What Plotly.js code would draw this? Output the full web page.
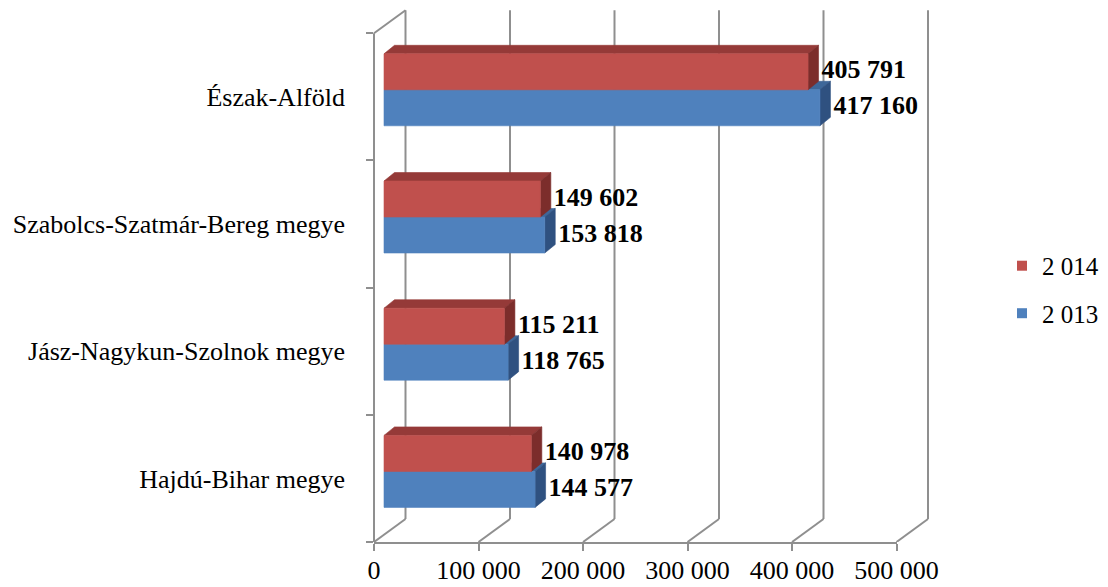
<!DOCTYPE html>
<html>
<head>
<meta charset="utf-8">
<script src="https://cdn.plot.ly/plotly-3.0.1.min.js"></script>
<style>
  html, body { margin: 0; padding: 0; background: #ffffff; }
  #chart { width: 1108px; height: 587px; }
</style>
</head>
<body>
<div id="chart"></div>
<script>
// Regions, listed from the bottom of the chart upwards
const categories = ['Hajdú-Bihar megye', 'Jász-Nagykun-Szolnok megye', 'Szabolcs-Szatmár-Bereg megye', 'Észak-Alföld'];
const values2014 = [140978, 115211, 149602, 405791];
const values2013 = [144577, 118765, 153818, 417160];
const seriesNames = ['2 014', '2 013'];
const xTickValues = [0, 100000, 200000, 300000, 400000, 500000];

// ---- drawing geometry (pixels) ----
const FIG_W = 1108, FIG_H = 587;
const SCENE_LEFT = 350, SCENE_RIGHT = 945;   // area that holds the 3D box
const FRONT_LEFT = 374;                      // x pixel of value 0 on the front plane
const PLOT_TOP = 8, PLOT_BOTTOM = 542;
const PX_PER_UNIT_X = 104.5 / 100000;
const PX_PER_BAND = 127.2;
const BOX_DEPTH = { x: 31.5, y: 23 };        // offset from front plane to back wall
const BAR_OFFSET = { x: 10, y: 7 };          // front face of the bars inside the box
const BAR_DEPTH = { x: 10.5, y: 8.5 };       // thickness of each bar in depth
const BAR_HEIGHT_PX = 36;
const LABEL_GAP_PX = 3;
const LEGEND_LEFT = 1002;

const FONT = '"Liberation Serif", "Times New Roman", serif';
const GRID = '#8f8f8f';
const COLORS = {
  '2 014': { front: '#C0504D', top: '#953A38', side: '#7C2D2B' },
  '2 013': { front: '#4F81BD', top: '#3E6799', side: '#2F5180' }
};

const sceneW = SCENE_RIGHT - SCENE_LEFT;
const plotH = PLOT_BOTTOM - PLOT_TOP;
const nBands = categories.length;

const ux = px => px / PX_PER_UNIT_X;          // pixels -> value units
const uy = px => px / PX_PER_BAND;            // pixels -> band units

const DX = ux(BOX_DEPTH.x), DY = uy(BOX_DEPTH.y);
const bx = ux(BAR_OFFSET.x), by = uy(BAR_OFFSET.y);
const bdx = ux(BAR_DEPTH.x), bdy = uy(BAR_DEPTH.y);
const bh = uy(BAR_HEIGHT_PX);

function fmt(v) {
  return String(v).replace(/\B(?=(\d{3})+(?!\d))/g, ' ');
}

const traces = [];

// ---- box: back wall gridlines, floor diagonals, left wall ----
const wx = [], wy = [];
function seg(x0, y0, x1, y1) { wx.push(x0, x1, null); wy.push(y0, y1, null); }
xTickValues.forEach(v => {
  seg(v + DX, DY, v + DX, nBands + DY);
  seg(v, 0, v + DX, DY);
});
seg(0, 0, 0, nBands);
seg(0, nBands, DX, nBands + DY);
traces.push({
  type: 'scatter', mode: 'lines', x: wx, y: wy, xaxis: 'x2', yaxis: 'y',
  line: { color: GRID, width: 2 }, hoverinfo: 'skip', showlegend: false
});

// ---- 3D bars ----
function barFaces(values, above) {
  const faces = { front: { x: [], y: [] }, top: { x: [], y: [] }, side: { x: [], y: [] } };
  values.forEach((v, i) => {
    const c = i + 0.5 + by;
    const y0 = above ? c : c - bh;
    const y1 = above ? c + bh : c;
    const x0 = bx, x1 = v + bx;
    faces.front.x.push(x0, x1, x1, x0, x0, null);
    faces.front.y.push(y0, y0, y1, y1, y0, null);
    faces.top.x.push(x0, x1, x1 + bdx, x0 + bdx, x0, null);
    faces.top.y.push(y1, y1, y1 + bdy, y1 + bdy, y1, null);
    faces.side.x.push(x1, x1 + bdx, x1 + bdx, x1, x1, null);
    faces.side.y.push(y0, y0 + bdy, y1 + bdy, y1, y0, null);
  });
  return faces;
}

const series = [
  { name: seriesNames[1], values: values2013, above: false },
  { name: seriesNames[0], values: values2014, above: true }
];

series.forEach(s => {
  const f = barFaces(s.values, s.above);
  ['top', 'side', 'front'].forEach(face => {
    traces.push({
      type: 'scatter', mode: 'lines', x: f[face].x, y: f[face].y,
      xaxis: 'x2', yaxis: 'y', fill: 'toself', fillcolor: COLORS[s.name][face],
      line: { color: COLORS[s.name][face], width: 0.6 },
      hoverinfo: 'skip', showlegend: false
    });
  });
});

// ---- value labels ----
series.forEach(s => {
  traces.push({
    type: 'scatter', mode: 'text',
    x: s.values.map(v => v + bx + bdx + ux(LABEL_GAP_PX)),
    y: s.values.map((v, i) => i + 0.5 + by + (s.above ? bh / 2 : -bh / 2)),
    text: s.values.map(fmt),
    textposition: 'middle right',
    textfont: { family: FONT, size: 26, color: '#000000', weight: 'bold' },
    xaxis: 'x2', yaxis: 'y', cliponaxis: false, hoverinfo: 'skip', showlegend: false
  });
});

// ---- legend entries ----
seriesNames.forEach(name => {
  traces.push({
    type: 'scatter', mode: 'markers', x: [null], y: [null], name: name,
    legendgroup: name, xaxis: 'x', yaxis: 'y',
    marker: { symbol: 'square', size: 10, color: COLORS[name].front },
    hoverinfo: 'skip'
  });
});

// keeps the band-boundary tick axis on the chart
traces.push({
  type: 'scatter', mode: 'markers', x: [0], y: [0], xaxis: 'x', yaxis: 'y2',
  marker: { size: 1, opacity: 0 }, hoverinfo: 'skip', showlegend: false
});

const frontLeftFrac = (FRONT_LEFT - SCENE_LEFT) / sceneW;
const frontRightFrac = (FRONT_LEFT + xTickValues[xTickValues.length - 1] * PX_PER_UNIT_X - SCENE_LEFT) / sceneW;
const yRange = [0, uy(plotH)];

const layout = {
  width: FIG_W, height: FIG_H,
  margin: { l: SCENE_LEFT, r: FIG_W - SCENE_RIGHT, t: PLOT_TOP, b: FIG_H - PLOT_BOTTOM, pad: 0, autoexpand: false },
  paper_bgcolor: '#ffffff', plot_bgcolor: 'rgba(0,0,0,0)',
  font: { family: FONT, color: '#000000' },
  showlegend: true,
  legend: {
    x: (LEGEND_LEFT - SCENE_LEFT) / sceneW, y: 0.56, xanchor: 'left', yanchor: 'top',
    font: { family: FONT, size: 25, color: '#000000' },
    itemwidth: 30, tracegroupgap: 12, traceorder: 'grouped',
    bgcolor: 'rgba(0,0,0,0)'
  },
  xaxis: {
    domain: [frontLeftFrac, frontRightFrac],
    range: [0, xTickValues[xTickValues.length - 1]],
    anchor: 'y',
    showgrid: false, zeroline: false,
    showline: true, linecolor: GRID, linewidth: 2,
    ticks: 'outside', ticklen: 7, tickwidth: 2, tickcolor: GRID,
    tickvals: xTickValues, ticktext: xTickValues.map(fmt),
    tickfont: { family: FONT, size: 26, color: '#000000' },
    ticklabelstandoff: -3,
    fixedrange: true
  },
  xaxis2: {
    domain: [0, 1], anchor: 'y',
    range: [-ux(FRONT_LEFT - SCENE_LEFT), ux(SCENE_RIGHT - FRONT_LEFT)],
    visible: false, fixedrange: true
  },
  yaxis: {
    domain: [0, 1], range: yRange, anchor: 'x',
    showgrid: false, zeroline: false, showline: false,
    ticks: '', tickvals: categories.map((c, i) => i + 0.5), ticktext: categories,
    tickfont: { family: FONT, size: 26, color: '#000000' },
    ticklabelstandoff: 28,
    fixedrange: true
  },
  yaxis2: {
    overlaying: 'y', anchor: 'x', side: 'left', range: yRange,
    showgrid: false, zeroline: false, showline: false, showticklabels: false,
    tickvals: categories.map((c, i) => i).concat([nBands]),
    ticks: 'outside', ticklen: 7, tickwidth: 2, tickcolor: GRID,
    fixedrange: true
  }
};

Plotly.newPlot('chart', traces, layout, { displayModeBar: false, staticPlot: true });
</script>
</body>
</html>
